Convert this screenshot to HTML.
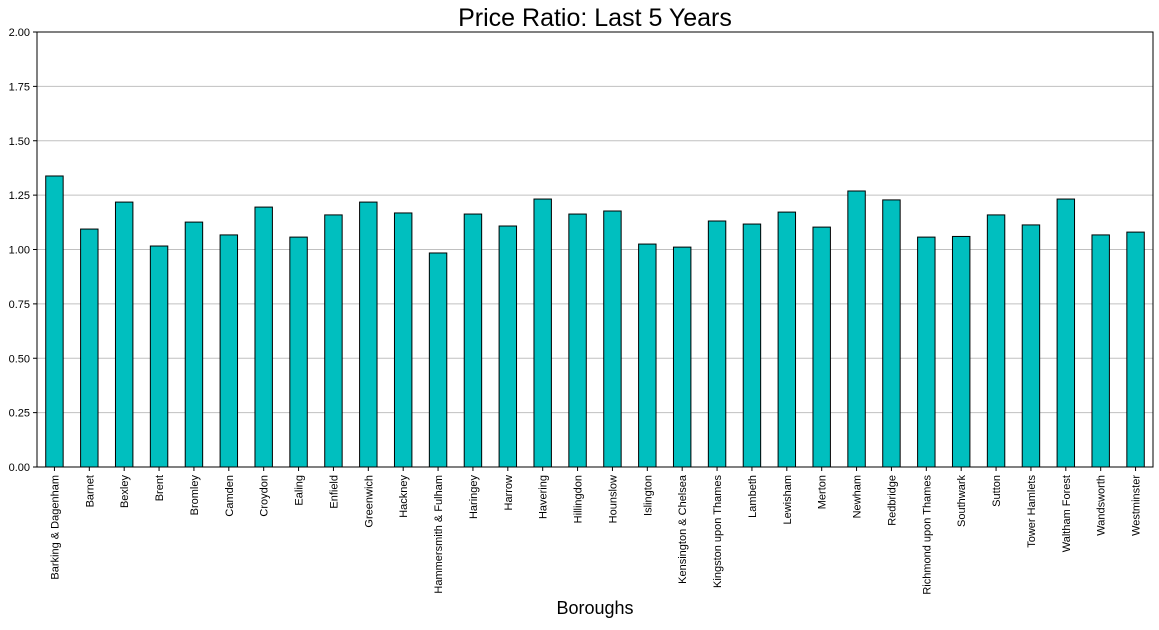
<!DOCTYPE html>
<html><head><meta charset="utf-8">
<style>
html,body{margin:0;padding:0;background:#fff;}
body{width:1159px;height:625px;overflow:hidden;font-family:"Liberation Sans",sans-serif;}
</style></head>
<body>
<svg id="chart" width="1159" height="625" xmlns="http://www.w3.org/2000/svg" font-family="Liberation Sans, sans-serif"></svg>
<script>
const categories = ["Barking & Dagenham","Barnet","Bexley","Brent","Bromley","Camden","Croydon","Ealing","Enfield","Greenwich","Hackney","Hammersmith & Fulham","Haringey","Harrow","Havering","Hillingdon","Hounslow","Islington","Kensington & Chelsea","Kingston upon Thames","Lambeth","Lewisham","Merton","Newham","Redbridge","Richmond upon Thames","Southwark","Sutton","Tower Hamlets","Waltham Forest","Wandsworth","Westminster"];
const values = [1.338,1.094,1.218,1.016,1.126,1.067,1.195,1.057,1.159,1.218,1.168,0.984,1.163,1.108,1.232,1.163,1.177,1.025,1.011,1.131,1.117,1.172,1.103,1.269,1.228,1.057,1.060,1.159,1.113,1.232,1.067,1.080];
const yTicks = [0,0.25,0.5,0.75,1.0,1.25,1.5,1.75,2.0];
const yTickLabels = ["0.00","0.25","0.50","0.75","1.00","1.25","1.50","1.75","2.00"];

const svg = document.getElementById('chart');
const NS = "http://www.w3.org/2000/svg";
const L=37,R=1153,T=32,B=467;
const yMax=2.0;
const y = v => B - (v/yMax)*(B-T);
const slot = (R-L)/categories.length;
const x = i => L + slot*(i+0.5);
function mk(tag, attrs, parent){const e=document.createElementNS(NS,tag);for(const k in attrs)e.setAttribute(k,attrs[k]);(parent||svg).appendChild(e);return e;}

yTicks.forEach((t,i)=>{
  const g=mk('line',{x1:L,x2:R,y1:y(t),y2:y(t),stroke:'#c0c0c0','stroke-width':1});
  
  
  mk('line',{x1:L-4,x2:L,y1:y(t),y2:y(t),stroke:'#000'});
  const tx=mk('text',{x:L-7,y:y(t)+4,'text-anchor':'end','font-size':11,fill:'#000'});
  tx.textContent=yTickLabels[i];
  
  
});

const bw = slot*0.5;
categories.forEach((c,i)=>{
  const r=mk('rect',{x:x(i)-bw/2,y:y(values[i]),width:bw,height:B-y(values[i]),fill:'#00bfbf',stroke:'#000','stroke-width':1});
  
  
  mk('line',{x1:x(i),x2:x(i),y1:B,y2:B+4,stroke:'#000'});
  const t=mk('text',{x:0,y:0,'text-anchor':'end','font-size':11,fill:'#000',transform:`translate(${x(i)+4},${B+8}) rotate(-90)`});
  t.textContent=c;
  
  
});

const f=mk('rect',{x:L,y:T,width:R-L,height:B-T,fill:'none',stroke:'#000','stroke-width':1});



const title=mk('text',{x:(L+R)/2,y:26,'text-anchor':'middle','font-size':25,fill:'#000'});
title.textContent='Price Ratio: Last 5 Years';



const xl=mk('text',{x:(L+R)/2,y:614,'text-anchor':'middle','font-size':18,fill:'#000'});
xl.textContent='Boroughs';


</script>
</body></html>
